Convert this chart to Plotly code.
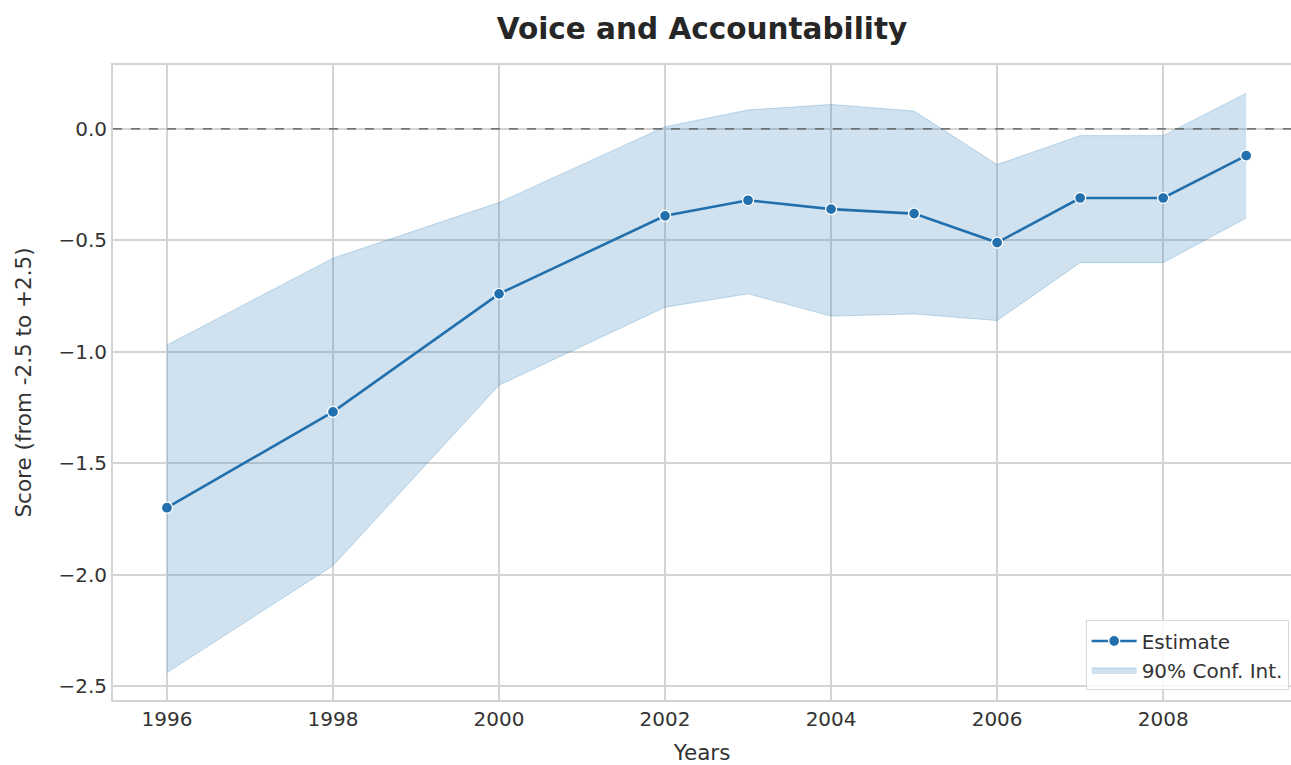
import plotly.graph_objects as go

# Governance indicator: Voice and Accountability
years = [1996, 1998, 2000, 2002, 2003, 2004, 2005, 2006, 2007, 2008, 2009]
estimate = [-1.70, -1.27, -0.74, -0.39, -0.32, -0.36, -0.38, -0.51, -0.31, -0.31, -0.12]
ci_upper = [-0.97, -0.58, -0.33, 0.01, 0.085, 0.11, 0.08, -0.16, -0.03, -0.03, 0.16]
ci_lower = [-2.44, -1.96, -1.15, -0.80, -0.74, -0.84, -0.83, -0.86, -0.60, -0.60, -0.40]

x_ticks = [1996, 1998, 2000, 2002, 2004, 2006, 2008]
y_ticks = [0.0, -0.5, -1.0, -1.5, -2.0, -2.5]

BLUE = "#2170ad"
FONT = "DejaVu Sans"
TEXT = "#333333"

fig = go.Figure()

# confidence band: lower bound first, then upper filled to it
fig.add_trace(go.Scatter(
    x=years, y=ci_lower, mode="lines",
    line=dict(color="rgba(31,119,180,0.25)", width=1),
    showlegend=False, hoverinfo="skip",
))
fig.add_trace(go.Scatter(
    x=years, y=ci_upper, mode="lines", fill="tonexty",
    fillcolor="rgba(31,119,180,0.21)",
    line=dict(color="rgba(31,119,180,0.25)", width=1),
    name="90% Conf. Int.",
))

fig.add_trace(go.Scatter(
    x=years, y=estimate, mode="lines+markers",
    line=dict(color=BLUE, width=2.6),
    marker=dict(size=11, color=BLUE, line=dict(color="white", width=1.3)),
    name="Estimate",
))

# zero reference line
fig.add_hline(y=0, line=dict(color="#555555", width=1.3, dash="dash"))

fig.update_layout(
    width=1291, height=765,
    margin=dict(l=113, r=0, t=65, b=65),
    paper_bgcolor="white", plot_bgcolor="white",
    font=dict(family=FONT, color=TEXT, size=20),
    title=dict(
        text="<b>Voice and Accountability</b>",
        x=0.5, xanchor="center", xref="paper",
        y=0.963, yanchor="middle", yref="container",
        font=dict(family=FONT, size=29.5, color="#262626"),
    ),
    legend=dict(
        x=0.998, y=0.015, xanchor="right", yanchor="bottom",
        bgcolor="rgba(255,255,255,0.85)", bordercolor="#d9d9d9", borderwidth=1,
        font=dict(family=FONT, size=20, color=TEXT),
        traceorder="reversed", itemwidth=45,
    ),
    showlegend=True,
)

fig.update_xaxes(
    range=[1995.35, 2009.54],
    tickvals=x_ticks, ticktext=[str(v) for v in x_ticks],
    showgrid=True, gridcolor="#d4d4d4", gridwidth=1.5,
    showline=True, linecolor="#d4d4d4", linewidth=2, mirror=True,
    zeroline=False, ticks="", ticklen=0,
    title=dict(text="Years", font=dict(family=FONT, size=21.5, color=TEXT), standoff=18),
    tickfont=dict(family=FONT, size=20, color=TEXT),
)
fig.update_yaxes(
    range=[-2.563, 0.287],
    tickvals=y_ticks, tickformat=".1f",
    showgrid=True, gridcolor="#d4d4d4", gridwidth=1.5,
    showline=True, linecolor="#d4d4d4", linewidth=2, mirror=False,
    zeroline=False, ticks="", ticklen=0,
    title=dict(text="Score (from -2.5 to +2.5)", font=dict(family=FONT, size=21.5, color=TEXT), standoff=21),
    tickfont=dict(family=FONT, size=20, color=TEXT),
)

fig.write_html("out.html")
